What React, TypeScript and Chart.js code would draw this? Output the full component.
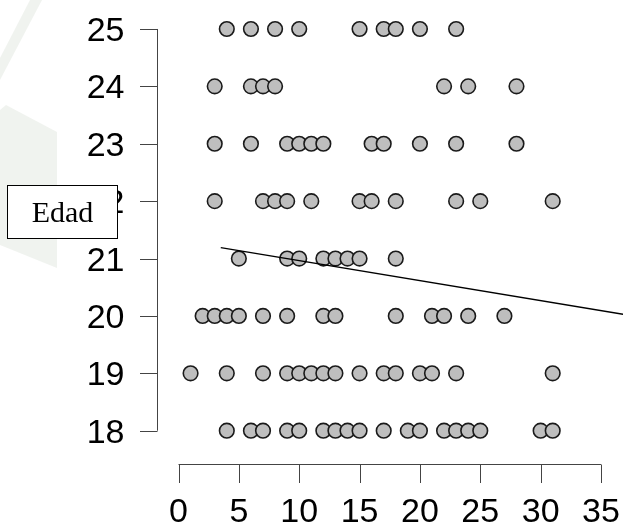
import React, { useEffect, useRef } from "react";
import { Chart, registerables } from "chart.js";

Chart.register(...registerables);

// Edad (y) categories and the x values observed at each age
const ages = [25, 24, 23, 22, 21, 20, 19, 18];
const x25 = [4, 6, 8, 10, 15, 17, 18, 20, 23];
const x24 = [3, 6, 7, 8, 22, 24, 28];
const x23 = [3, 6, 9, 10, 11, 12, 16, 17, 20, 23, 28];
const x22 = [3, 7, 8, 9, 11, 15, 16, 18, 23, 25, 31];
const x21 = [5, 9, 10, 12, 13, 14, 15, 18];
const x20 = [2, 3, 4, 5, 7, 9, 12, 13, 18, 21, 22, 24, 27];
const x19 = [1, 4, 7, 9, 10, 11, 12, 13, 15, 17, 18, 20, 21, 23, 31];
const x18 = [4, 6, 7, 9, 10, 12, 13, 14, 15, 17, 19, 20, 22, 23, 24, 25, 30, 31];
const rows = [x25, x24, x23, x22, x21, x20, x19, x18];

// fitted line y = a + b x, drawn over this x range
const regIntercept = 21.312;
const regSlope = -0.0348;
const regRange = [3.5, 36.83];

const xTicks = [0, 5, 10, 15, 20, 25, 30, 35];
const yTicks = [18, 19, 20, 21, 22, 23, 24, 25];
const yTitle = "Edad";

const FONT = "'Liberation Sans', Arial, Helvetica, sans-serif";

export default function App() {
  const ref = useRef<HTMLCanvasElement | null>(null);

  useEffect(() => {
    const canvas = ref.current;
    if (!canvas) return;

    const points: { x: number; y: number }[] = [];
    rows.forEach((xs, i) => xs.forEach((x) => points.push({ x, y: ages[i] })));
    const line = regRange.map((x) => ({ x, y: regIntercept + regSlope * x }));

    const decor = {
      id: "decor",
      beforeDraw(chart: any) {
        const ctx = chart.ctx;
        ctx.save();
        ctx.fillStyle = "#fff";
        ctx.fillRect(0, 0, chart.width, chart.height);
        ctx.fillStyle = "rgba(205, 214, 203, 0.3)";
        ctx.beginPath();
        ctx.moveTo(6, 105);
        ctx.lineTo(57, 132);
        ctx.lineTo(57, 268);
        ctx.lineTo(0, 245);
        ctx.lineTo(0, 110);
        ctx.closePath();
        ctx.fill();
        ctx.beginPath();
        ctx.moveTo(30, 0);
        ctx.lineTo(42, 0);
        ctx.lineTo(0, 80);
        ctx.lineTo(0, 58);
        ctx.closePath();
        ctx.fill();
        ctx.restore();
      },
      afterDraw(chart: any) {
        const ctx = chart.ctx;
        const xs = chart.scales.x;
        const ys = chart.scales.y;
        ctx.save();
        ctx.strokeStyle = "#444";
        ctx.lineWidth = 1;
        // y axis
        const ax = 157.5;
        ctx.beginPath();
        ctx.moveTo(ax, ys.getPixelForValue(yTicks[0]));
        ctx.lineTo(ax, ys.getPixelForValue(yTicks[yTicks.length - 1]));
        yTicks.forEach((t) => {
          const p = Math.round(ys.getPixelForValue(t)) + 0.5;
          ctx.moveTo(ax, p);
          ctx.lineTo(140, p);
        });
        ctx.stroke();
        // x axis
        const ay = 464.5;
        ctx.beginPath();
        ctx.moveTo(xs.getPixelForValue(xTicks[0]), ay);
        ctx.lineTo(xs.getPixelForValue(xTicks[xTicks.length - 1]), ay);
        xTicks.forEach((t) => {
          const p = Math.round(xs.getPixelForValue(t)) + 0.5;
          ctx.moveTo(p, ay);
          ctx.lineTo(p, 483);
        });
        ctx.stroke();
        // tick labels
        ctx.fillStyle = "#000";
        ctx.font = "34px " + FONT;
        ctx.textBaseline = "alphabetic";
        ctx.textAlign = "right";
        yTicks.forEach((t) => {
          ctx.fillText(String(t), 124.5, ys.getPixelForValue(t) + 12);
        });
        ctx.textAlign = "center";
        xTicks.forEach((t) => {
          ctx.fillText(String(t), xs.getPixelForValue(t), 522);
        });
        // label box
        ctx.fillStyle = "#fff";
        ctx.fillRect(7.5, 185.5, 110, 53);
        ctx.strokeStyle = "#000";
        ctx.strokeRect(7.5, 185.5, 110, 53);
        ctx.fillStyle = "#000";
        ctx.font = "30px 'Liberation Serif', 'Times New Roman', serif";
        ctx.textAlign = "center";
        ctx.fillText(yTitle, 62.5, 222);
        ctx.restore();
      },
    };

    const chart = new Chart(canvas, {
      type: "scatter",
      data: {
        datasets: [
          {
            type: "line",
            data: line,
            borderColor: "#000",
            borderWidth: 1.4,
            pointRadius: 0,
            fill: false,
          } as any,
          {
            data: points,
            backgroundColor: "#bebebe",
            borderColor: "#1a1a1a",
            borderWidth: 1.6,
            pointRadius: 7.3,
            clip: false,
          } as any,
        ],
      },
      options: {
        responsive: false,
        animation: false,
        layout: { padding: 0, autoPadding: false },
        plugins: { legend: { display: false }, tooltip: { enabled: false } },
        scales: {
          x: { type: "linear", display: false, min: -14.788, max: 36.824 },
          y: { type: "linear", display: false, min: 16.322, max: 25.505 },
        },
      },
      plugins: [decor],
    });
    return () => chart.destroy();
  }, []);

  return (
    <div style={{ position: "absolute", left: 0, top: 0, width: 623, height: 527, background: "#fff" }}>
      <canvas ref={ref} width={623} height={527} style={{ display: "block" }} />
    </div>
  );
}
